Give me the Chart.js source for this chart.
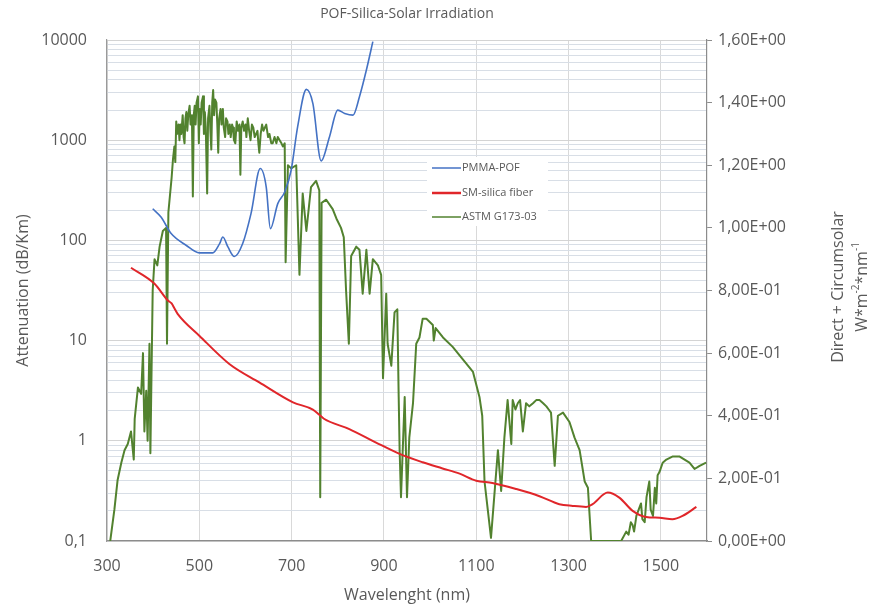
<!DOCTYPE html>
<html>
<head>
<meta charset="utf-8">
<script src="https://cdn.jsdelivr.net/npm/chart.js@4/dist/chart.umd.min.js"></script>
<style>
  html, body { margin: 0; padding: 0; background: #ffffff; }
  #wrap { width: 870px; height: 609px; }
</style>
</head>
<body>
<div id="wrap"><canvas id="c" width="870" height="609"></canvas></div>
<script>
// ---------- data ----------
const chartTitle = 'POF-Silica-Solar Irradiation';
const xTitle = 'Wavelenght (nm)';
const yTitle = 'Attenuation (dB/Km)';
const y2TitleLine1 = 'Direct + Circumsolar';

const xTickValues = [300, 500, 700, 900, 1100, 1300, 1500];
const yDecades = [0.1, 1, 10, 100, 1000, 10000];
const yMinorSteps = [2, 3, 4, 5, 6, 7, 8, 9];

// PMMA-POF attenuation (dB/km), left log axis
const pofNm  = [399, 417, 439, 472, 500, 529, 544, 551, 562, 576, 594, 612, 632, 645, 654, 670, 685, 699, 713, 732, 746, 764, 782, 800, 815, 833, 847, 862, 876];
const pofVal = [207, 171, 117, 89, 75, 75, 93, 108, 86, 69, 93, 185, 521, 341, 131, 233, 304, 501, 1359, 3214, 2328, 621, 1079, 1995, 1849, 1778, 2712, 5012, 9623];

// SM-silica fiber attenuation (dB/km), left log axis
const silicaNm  = [352, 403, 432, 440, 446, 453, 500, 565, 630, 703, 746, 760, 770, 825, 883, 934, 984, 1027, 1064, 1100, 1135, 1187, 1237, 1280, 1309, 1338, 1352, 1385, 1410, 1439, 1468, 1497, 1525, 1547, 1577];
const silicaVal = [53.3, 36.9, 25.1, 23.5, 21.0, 18.5, 11.2, 5.85, 3.83, 2.42, 2.05, 1.82, 1.66, 1.31, 0.96, 0.74, 0.61, 0.53, 0.47, 0.40, 0.38, 0.33, 0.28, 0.233, 0.224, 0.219, 0.233, 0.304, 0.271, 0.20, 0.174, 0.171, 0.165, 0.178, 0.219];

// ASTM G173-03 direct + circumsolar (W m-2 nm-1), right linear axis
const astmNm  = [307, 316, 323, 331, 338, 345, 352, 358, 360, 367, 374, 378, 381, 385, 388, 392, 394, 399, 403, 409, 414, 421, 428, 430, 433,
  440, 443, 446, 448, 450, 452, 455, 457, 459, 461, 464, 466, 468, 470, 472, 474, 476, 479, 481, 484, 486, 488, 490, 492, 494, 497, 499,
  501, 503, 505, 508, 510, 512, 514, 517, 519, 522, 524, 526, 528, 530, 532, 534, 537, 539, 541, 543, 546, 548, 551, 553, 556, 558, 561,
  563, 566, 568, 571, 573, 575, 578, 581, 584, 587, 589, 591, 594, 597, 600, 602, 605, 608, 611, 614, 617, 620, 623, 626, 628, 630, 633,
  636, 639, 642, 645, 649, 652, 656, 659, 663, 667, 670, 674, 678, 681, 685, 687, 692, 699, 710, 717, 724, 732, 742, 753, 760, 762, 765,
  775, 789, 797, 807, 813, 818, 824, 829, 840, 847, 854, 862, 869, 876, 887, 894, 898, 905, 908, 916, 923, 929, 932, 934, 937, 945, 950,
  955, 963, 970, 977, 984, 992, 1006, 1008, 1012, 1028, 1049, 1071, 1093, 1107, 1113, 1118, 1125, 1132, 1140, 1147, 1154, 1161, 1168,
  1176, 1179, 1185, 1190, 1195, 1201, 1208, 1215, 1223, 1230, 1237, 1245, 1252, 1257, 1262, 1270, 1277, 1288, 1302, 1313, 1324, 1335,
  1342, 1349, 1380, 1414, 1425, 1430, 1435, 1439, 1442, 1447, 1452, 1457, 1460, 1465, 1469, 1475, 1478, 1483, 1487, 1490, 1493, 1497,
  1504, 1512, 1526, 1540, 1562, 1573, 1584, 1598];
const astmVal = [0, 0.10, 0.195, 0.25, 0.29, 0.31, 0.35, 0.26, 0.39, 0.49, 0.47, 0.60, 0.35, 0.48, 0.32, 0.63, 0.28, 0.80, 0.90, 0.88, 0.94, 0.99, 1.00, 0.63, 1.05,
  1.16, 1.22, 1.26, 1.21, 1.34, 1.30, 1.33, 1.28, 1.33, 1.30, 1.36, 1.29, 1.27, 1.35, 1.37, 1.31, 1.36, 1.39, 1.33, 1.36, 1.10, 1.36, 1.39, 1.33, 1.40, 1.42, 1.27,
  1.38, 1.33, 1.40, 1.42, 1.30, 1.37, 1.32, 1.11, 1.35, 1.39, 1.31, 1.25, 1.40, 1.44, 1.36, 1.41, 1.40, 1.33, 1.24, 1.35, 1.38, 1.33, 1.38, 1.32, 1.29, 1.35, 1.34,
  1.30, 1.33, 1.29, 1.33, 1.32, 1.28, 1.27, 1.34, 1.31, 1.33, 1.17, 1.32, 1.34, 1.31, 1.33, 1.29, 1.35, 1.31, 1.28, 1.33, 1.32, 1.29, 1.30, 1.31, 1.27, 1.24, 1.30,
  1.33, 1.31, 1.32, 1.33, 1.29, 1.30, 1.27, 1.27, 1.29, 1.27, 1.29, 1.28, 1.27, 1.26, 1.27, 0.89, 1.20, 1.19, 1.20, 0.85, 1.11, 0.99, 1.13, 1.15, 1.12, 0.14, 1.08,
  1.09, 1.06, 1.03, 1.00, 0.97, 0.80, 0.63, 0.91, 0.94, 0.93, 0.79, 0.93, 0.79, 0.90, 0.88, 0.85, 0.52, 0.79, 0.63, 0.56, 0.73, 0.74, 0.46, 0.29, 0.14, 0.46, 0.14,
  0.33, 0.44, 0.63, 0.65, 0.71, 0.71, 0.69, 0.64, 0.68, 0.65, 0.62, 0.58, 0.54, 0.46, 0.40, 0.19, 0.10, 0.01, 0.16, 0.29, 0.16, 0.33, 0.45,
  0.31, 0.45, 0.42, 0.44, 0.45, 0.35, 0.44, 0.43, 0.44, 0.45, 0.45, 0.44, 0.43, 0.42, 0.41, 0.24, 0.40, 0.41, 0.38, 0.33, 0.29, 0.19,
  0.17, 0, 0, 0, 0.03, 0.02, 0.06, 0.05, 0.03, 0.08, 0.10, 0.12, 0.07, 0.06, 0.14, 0.19, 0.10, 0.08, 0.17, 0.12, 0.21, 0.22,
  0.25, 0.26, 0.27, 0.27, 0.25, 0.23, 0.24, 0.25];

// ---------- helpers ----------
const zip = (xs, ys) => xs.map((x, i) => ({ x: x, y: ys[i] }));
const FONT = "'Open Sans', 'Liberation Sans', sans-serif";
const TXT = '#595959';

// log-axis tick positions: each decade plus its 2..9 multiples
const yTickValues = [];
yDecades.forEach((d, i) => {
  yTickValues.push({ value: d, major: true });
  if (i < yDecades.length - 1) yMinorSteps.forEach(m => yTickValues.push({ value: +(m * d).toPrecision(6), major: false }));
});

function sciLabel(v) {
  if (Math.abs(v) < 1e-12) return '0,00E+00';
  let e = Math.floor(Math.log10(Math.abs(v)) + 1e-9);
  const m = v / Math.pow(10, e);
  const sign = e < 0 ? '-' : '+';
  const ae = Math.abs(e);
  return m.toFixed(2).replace('.', ',') + 'E' + sign + (ae < 10 ? '0' + ae : '' + ae);
}

// custom in-plot legend + rotated right-axis title
const extras = {
  id: 'extras',
  afterDraw(chart) {
    const ctx = chart.ctx;
    ctx.save();
    ctx.fillStyle = '#ffffff';
    ctx.fillRect(427, 157, 121, 69);
    const rowsY = [168, 193, 217];
    const widths = [1.5, 2.5, 1.5];
    chart.data.datasets.forEach((ds, i) => {
      ctx.strokeStyle = ds.borderColor;
      ctx.lineWidth = widths[i];
      ctx.beginPath();
      ctx.moveTo(432, rowsY[i]);
      ctx.lineTo(461, rowsY[i]);
      ctx.stroke();
      ctx.fillStyle = TXT;
      ctx.font = "11px " + FONT;
      ctx.textBaseline = 'middle';
      ctx.textAlign = 'left';
      ctx.fillText(ds.label, 462, rowsY[i]);
    });
    ctx.fillStyle = TXT;
    ctx.translate(838, 287);
    ctx.rotate(-Math.PI / 2);
    ctx.font = "16px " + FONT;
    ctx.textAlign = 'center';
    ctx.textBaseline = 'middle';
    ctx.fillText(y2TitleLine1, 0, 0);
    const parts = [['W*m', false], ['-2', true], ['*nm', false], ['-1', true]];
    let total = 0;
    parts.forEach(p => { ctx.font = (p[1] ? "10px " : "16px ") + FONT; total += ctx.measureText(p[0]).width; });
    let x = -total / 2;
    ctx.textAlign = 'left';
    parts.forEach(p => {
      ctx.font = (p[1] ? "10px " : "16px ") + FONT;
      ctx.fillText(p[0], x, 24 + (p[1] ? -6 : 0));
      x += ctx.measureText(p[0]).width;
    });
    ctx.restore();
  }
};

new Chart(document.getElementById('c'), {
  type: 'line',
  data: {
    datasets: [
      { label: 'PMMA-POF', data: zip(pofNm, pofVal), yAxisID: 'y', borderColor: '#4472c4', borderWidth: 1.6, pointRadius: 0, cubicInterpolationMode: 'monotone', order: 1 },
      { label: 'SM-silica fiber', data: zip(silicaNm, silicaVal), yAxisID: 'y', borderColor: '#e0262a', borderWidth: 2, pointRadius: 0, cubicInterpolationMode: 'monotone', order: 1 },
      { label: 'ASTM G173-03', data: zip(astmNm, astmVal), yAxisID: 'y2', borderColor: '#52822f', borderWidth: 2, borderJoinStyle: 'round', pointRadius: 0, tension: 0, order: 2 }
    ]
  },
  options: {
    responsive: false,
    animation: false,
    devicePixelRatio: 1,
    layout: { padding: 0 },
    plugins: {
      legend: { display: false },
      tooltip: { enabled: false },
      title: {
        display: true, text: chartTitle, fullSize: false, color: TXT,
        font: { family: FONT, size: 14, weight: 'normal' },
        padding: { top: 6, bottom: 17.2 }
      }
    },
    scales: {
      x: {
        type: 'linear', min: 300, max: 1600,
        afterBuildTicks: (s) => { s.ticks = xTickValues.map(v => ({ value: v })); },
        afterFit: (s) => { s.height = 68; },
        grid: { color: '#d9d9d9', drawTicks: false },
        border: { display: true, color: '#8c8c8c', width: 1.2 },
        ticks: { color: TXT, font: { family: FONT, size: 16 }, padding: 16, autoSkip: false, maxRotation: 0, callback: (v) => String(v) },
        title: { display: true, text: xTitle, color: TXT, font: { family: FONT, size: 16 }, padding: { top: 0, bottom: 4 } }
      },
      y: {
        type: 'logarithmic', position: 'left', min: 0.1, max: 10000,
        afterBuildTicks: (s) => { s.ticks = yTickValues.map(t => ({ value: t.value, major: t.major })); },
        afterFit: (s) => { s.width = 107; },
        grid: { color: (c) => (c.tick && c.tick.major) ? '#d4d4d4' : '#d8dee6', drawTicks: false },
        border: { display: true, color: '#9a9a9a', width: 1.2 },
        ticks: {
          color: TXT, font: { family: FONT, size: 16 }, padding: 20, autoSkip: false,
          callback: (v, i, ticks) => {
            if (!ticks[i].major) return '';
            return v < 1 ? String(v).replace('.', ',') : String(Math.round(v));
          }
        },
        title: { display: true, text: yTitle, color: TXT, font: { family: FONT, size: 16 }, padding: { top: 14, bottom: 0 } }
      },
      y2: {
        type: 'linear', position: 'right', min: 0, max: 1.6,
        afterFit: (s) => { s.width = 163; },
        grid: { drawOnChartArea: false, drawTicks: true, tickLength: 5, tickColor: '#8c8c8c' },
        border: { display: true, color: '#8c8c8c', width: 1.2 },
        ticks: { stepSize: 0.2, color: TXT, font: { family: FONT, size: 16 }, padding: 6, callback: (v) => sciLabel(v) },
        title: { display: false }
      }
    }
  },
  plugins: [extras]
});
</script>
</body>
</html>
